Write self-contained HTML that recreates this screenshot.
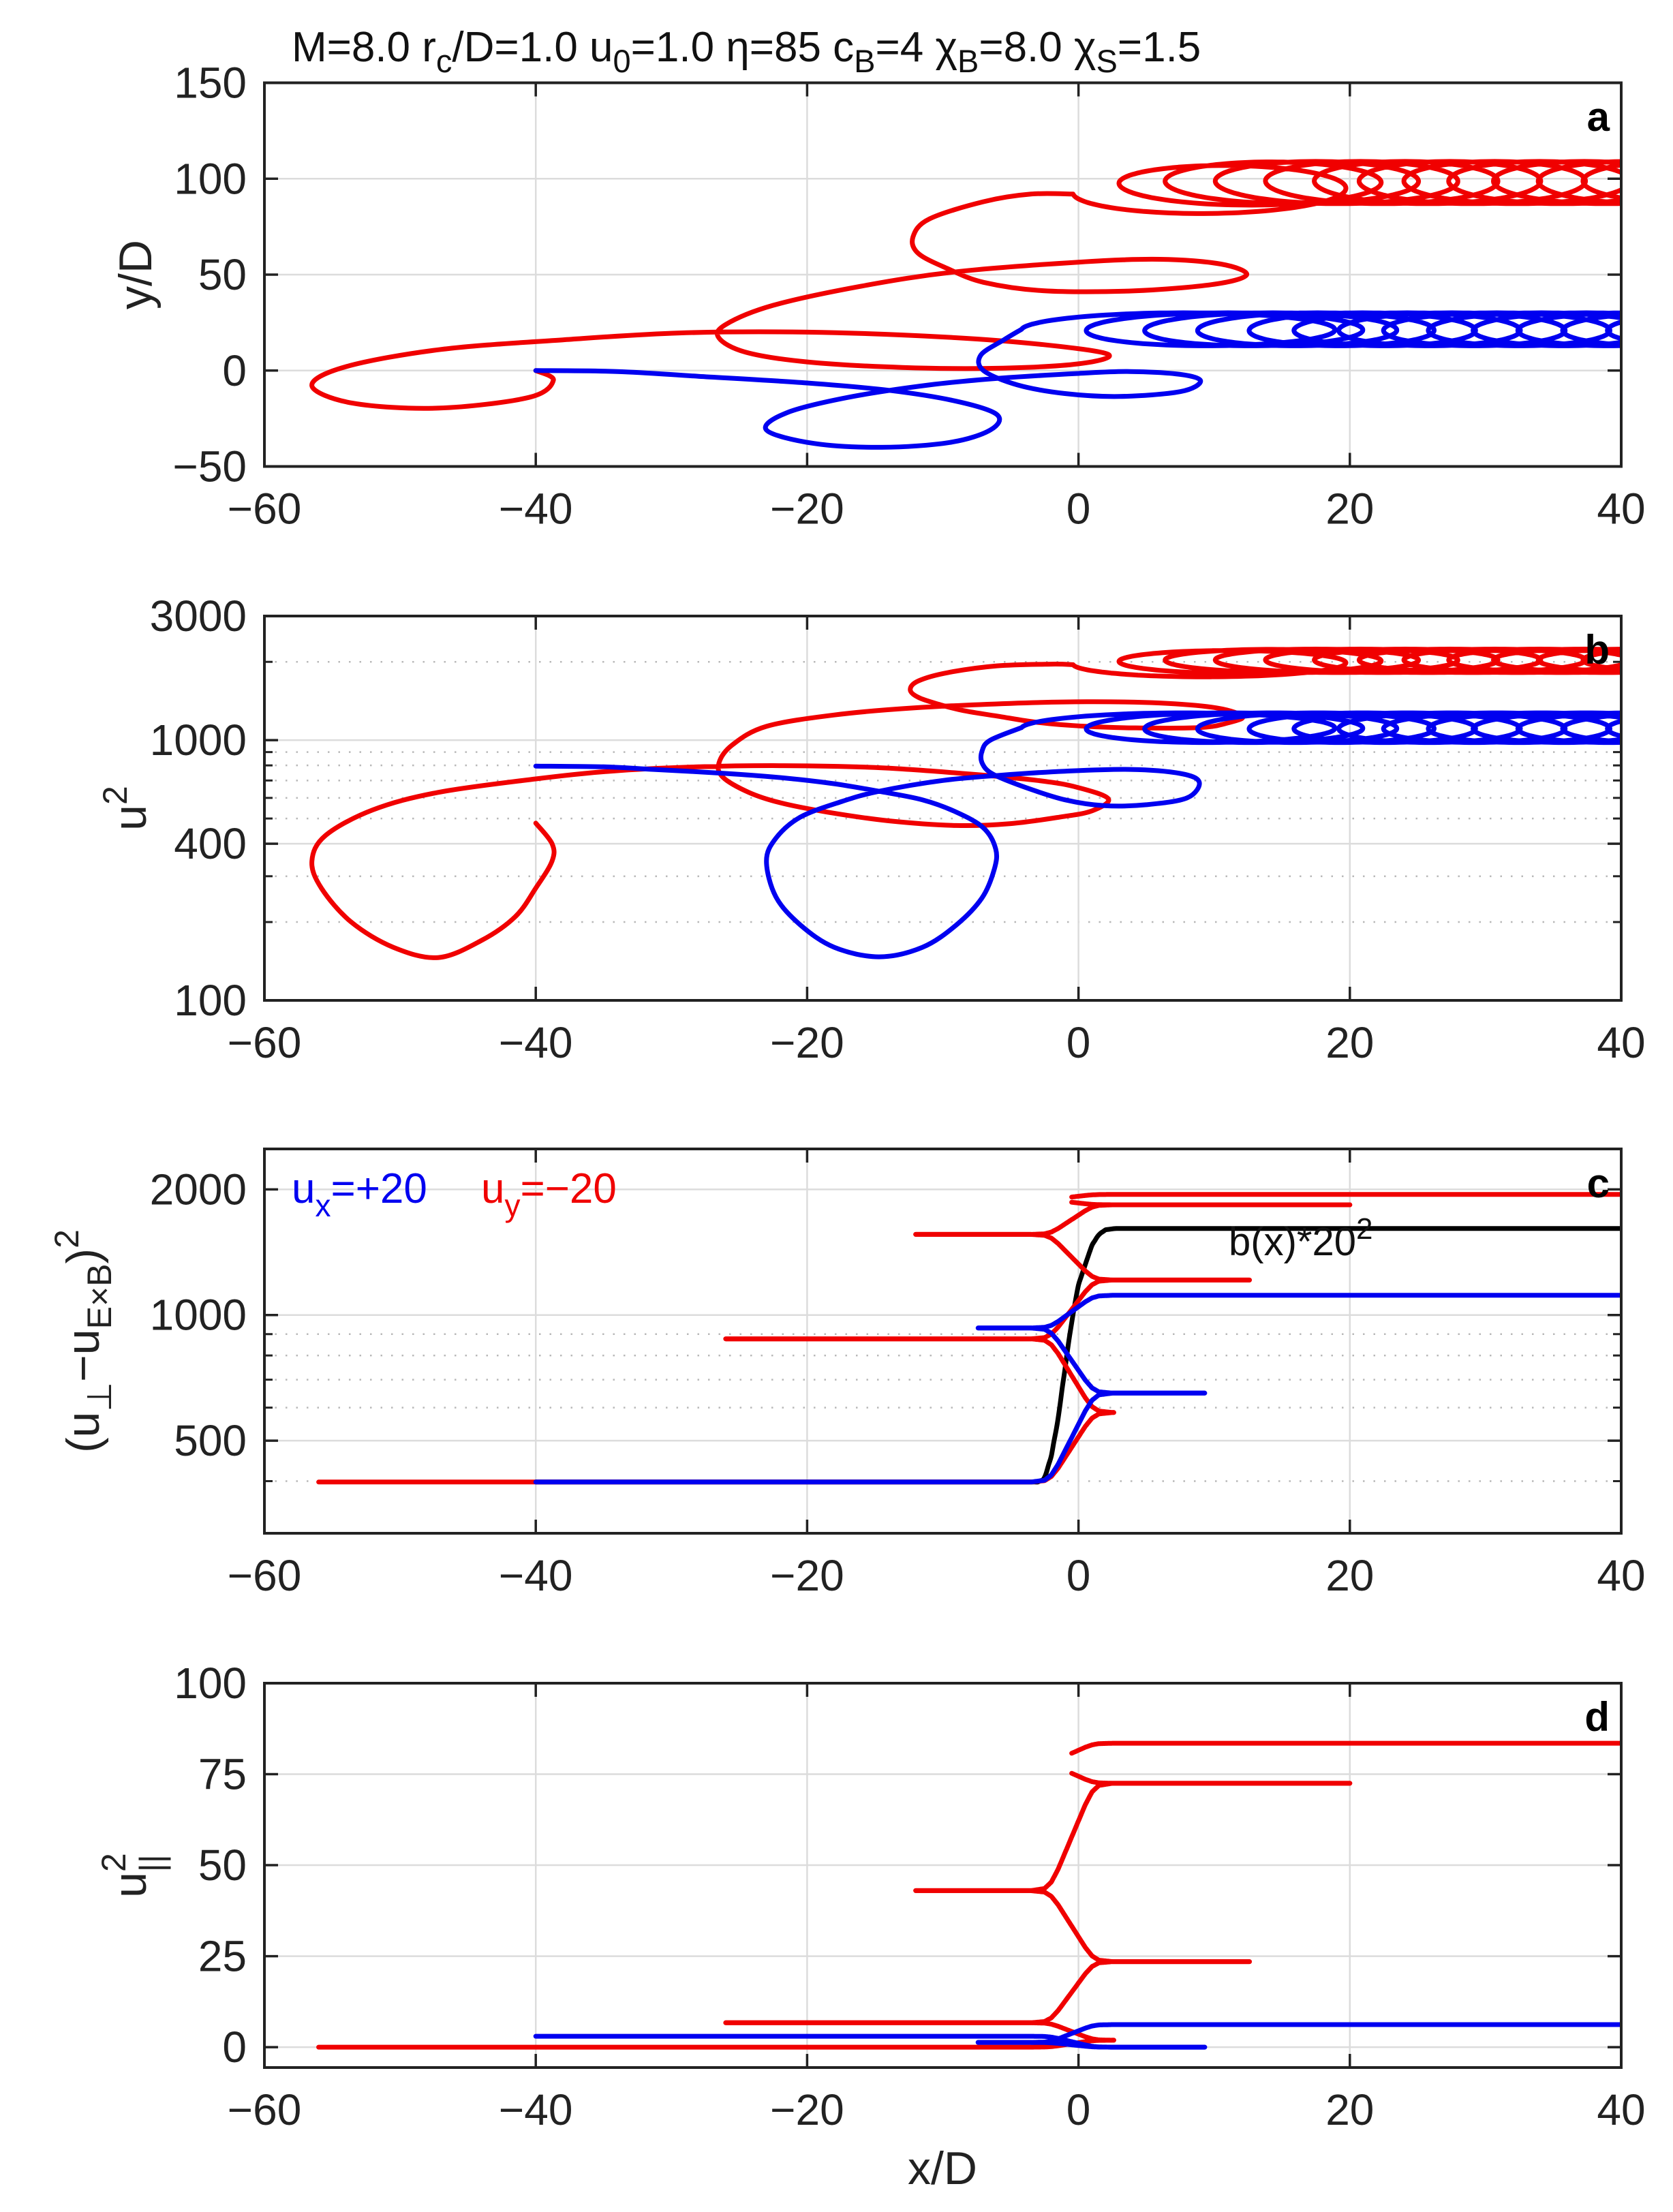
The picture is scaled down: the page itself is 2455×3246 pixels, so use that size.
<!DOCTYPE html>
<html><head><meta charset="utf-8"><title>Particle trajectories</title>
<style>
html,body{margin:0;padding:0;background:#fff;}
svg{display:block;font-family:"Liberation Sans",Arial,sans-serif;}
</style></head>
<body>
<svg id="fig" xmlns="http://www.w3.org/2000/svg" width="2455" height="3246" viewBox="0 0 2455 3246">
<rect width="2455" height="3246" fill="#fff"/>
<defs>
<clipPath id="clipA"><rect x="388" y="121.5" width="1991" height="563"/></clipPath>
<clipPath id="clipB"><rect x="388" y="904" width="1991" height="564"/></clipPath>
<clipPath id="clipC"><rect x="388" y="1686" width="1991" height="564"/></clipPath>
<clipPath id="clipD"><rect x="388" y="2470" width="1991" height="564"/></clipPath>
</defs>
<text x="428" y="90" font-size="62" fill="#111">M=8.0 r<tspan dy="16" font-size="47">c</tspan><tspan dy="-16">/D=1.0 u</tspan><tspan dy="16" font-size="47">0</tspan><tspan dy="-16">=1.0 η=85 c</tspan><tspan dy="16" font-size="47">B</tspan><tspan dy="-16">=4 χ</tspan><tspan dy="16" font-size="47">B</tspan><tspan dy="-16">=8.0 χ</tspan><tspan dy="16" font-size="47">S</tspan><tspan dy="-16">=1.5</tspan></text>
<g id="layer"></g>
</svg>
<script>
// ---------- data ----------
const xTicks = [-60, -40, -20, 0, 20, 40];
const aTicks = [-50, 0, 50, 100, 150];
const bTicks = [100, 400, 1000, 3000];
const bMinor = [200, 300, 500, 600, 700, 800, 900, 2000];
const cTicks = [500, 1000, 2000];
const cMinor = [400, 600, 700, 800, 900];
const dTicks = [0, 25, 50, 75, 100];

// panel a pre-train trajectories (x/D, y/D)
const redAX = [-40,-38.7,-40.5,-47.2,-53.5,-56.5,-54,-47,-38,-29.4,-20,-10,-2.6,2.2,0,-6,-13,-20,-24.5,-26.5,-26,-22.5,-16,-9,0,6,10.5,12.4,10,4,-2.6,-7,-9.6,-11.8,-12.2,-11,-7,-3.5,-0.4];
const redAY = [0,-5,-14,-19.6,-17,-8,2,11,16,19.6,20,17.5,13.5,8.4,3.5,1.2,1.6,4.5,9.5,17,24,34,44,51.5,56.5,58,55.5,50,45,41.5,41.6,46,53,61,69.6,79,88,92,92];
const blueAX = [-40,-34,-28,-20,-14,-9,-6,-6.5,-9.5,-14.5,-19.5,-23,-21.5,-17,-11,-5.8,0,3.8,7.5,9,7.5,3,-1,-4.5,-7,-7.2,-5.5,-4.2];
const blueAY = [0,-0.5,-3,-6.5,-10.3,-16,-23,-31,-37.5,-40,-38,-31,-22,-14,-7.5,-4,-1.5,-0.5,-2,-5.5,-11,-13.5,-12,-7.5,0,8,16,21.5];

// panel b pre-train trajectories (x/D, u^2)
const redBX = [-40,-38.8,-38.8,-40,-41.5,-44,-47.2,-50.5,-53.6,-55.8,-56.5,-55.5,-52,-47.2,-40,-34.5,-28,-21.7,-15,-9,-3,-0.05,2.2,1,-1.3,-5,-9,-14,-18.5,-22,-24.3,-26.2,-26.5,-25.5,-23,-18,-12.2,-5,0.6,6,10.2,12.1,11,8.9,4,0.6,-3,-5.8,-8.5,-10.3,-11.8,-12.4,-11.8,-9.6,-6,-2,-0.4];
const redBV = [480,400,343,270,210,170,146,160,200,270,343,430,540,630,710,760,790,798,785,748,700,658,595,535,507,478,470,490,529,575,630,720,817,960,1130,1250,1330,1385,1405,1390,1330,1233,1165,1117,1115,1130,1170,1233,1300,1374,1460,1563,1690,1820,1930,1960,1950];
const blueBX = [-40,-35,-31.3,-26,-21.7,-18,-14.7,-11.5,-9,-7,-6.1,-6.2,-7.1,-9,-11.5,-14.7,-18,-20.5,-22.3,-23,-22.3,-20.5,-17.5,-14.7,-10,-5.8,-1,3.8,7.5,8.9,8,5,1.9,-1,-3.9,-6.3,-7.1,-7.1,-6.5,-4.2];
const blueBV = [795,790,772,745,716,680,636,590,529,460,382,320,248,195,160,147,160,195,250,343,420,506,580,636,700,733,760,772,745,690,600,565,560,590,658,740,817,910,1000,1117];

// gyration trains: centre x of each turn and half-width of each turn
const redTrainCx = [9.0,12.0,15.0,18.3,21.6,24.9,28.2,31.5,34.8,38.1,41.4,44.7,48.0];
const redTrainA  = [9.4,9.0,8.6,8.2,7.8,7.5,7.5,7.5,7.5,7.5,7.5,7.5,7.5];
const blueTrainCx = [6.9,10.2,13.5,16.8,20.1,23.4,26.7,30,33.3,36.6,39.9,43.2,46.5];
const blueTrainA  = [11.1,9.6,8.6,8.0,7.5,7.5,7.5,7.5,7.5,7.5,7.5,7.5,7.5];
const redTrainCyA = [92,97,98,98,98,98,98,98,98,98,98,98,98];
const redTrainBA  = [11.5,11,11,11,11,11,11,11,11,11,11,11,11];
const blueTrainCyA = [21.5,21.5,21.5,21.5,21.5,21.5,21.5,21.5,21.5,21.5,21.5,21.5,21.5];
const blueTrainBA  = [8.6,8.6,8.6,8.6,8.6,8.6,8.6,8.6,8.6,8.6,8.6,8.6,8.6];
const redTrainCyB = [3.29,3.30,3.305,3.305,3.305,3.305,3.305,3.305,3.305,3.305,3.305,3.305,3.305];
const redTrainBB  = [0.05,0.046,0.045,0.045,0.045,0.045,0.045,0.045,0.045,0.045,0.045,0.045,0.045];
const blueTrainCyB = [3.048,3.048,3.048,3.048,3.048,3.048,3.048,3.048,3.048,3.048,3.048,3.048,3.048];
const blueTrainBB  = [0.057,0.057,0.057,0.057,0.057,0.057,0.057,0.057,0.057,0.057,0.057,0.057,0.057];

// panel c/d legs between turning points
const redSegX0 = [-56, 2.6, -26, 12.6, -12, 20, -0.5];
const redSegX1 = [2.6, -26, 12.6, -12, 20, -0.5, 40];
const redCLeft  = [398, 877, 877, 1560, 1560, 1890, 1890];
const redCRight = [584, 584, 1213, 1213, 1837, 1837, 1945];
const redDLeft  = [0, 6.7, 6.7, 43, 43, 78, 78];
const redDRight = [1.9, 1.9, 23.5, 23.5, 72.5, 72.5, 83.5];
const blueSegX0 = [-40, 9.3, -7.4];
const blueSegX1 = [9.3, -7.4, 40];
const blueCLeft  = [398, 931, 931];
const blueCRight = [650, 650, 1115];
const blueDLeft  = [3, 1.3, 1.3];
const blueDRight = [0, 0, 6.2];
const bProfX = [-40,-3,-2.5,-2,-1.5,-1,-0.5,0,0.5,1,1.5,2,2.7,40];
const bProfV = [398,398,405,460,560,740,960,1180,1320,1470,1560,1600,1612,1612];
const transX = [-3.5,-2.5,-2,-1.5,-1,-0.5,0,0.5,1,1.5,2.5];
const transS = [0,0.02,0.08,0.2,0.35,0.5,0.65,0.8,0.92,0.98,1];

// ---------- axes ----------
const L = 388, R = 2379;
const X = x => L + (x + 60) * (R - L) / 100;
const P = {
  a: {top:121.5, bot:684.5, y: v => 121.5 + (150 - v) / 200 * 563},
  b: {top:904, bot:1468, y: v => 904 + (Math.log10(3000) - Math.log10(v)) / Math.log10(30) * 564},
  bl:{y: l => 904 + (Math.log10(3000) - l) / Math.log10(30) * 564},
  c: {top:1686, bot:2250, y: v => 1686 + (Math.log10(2500) - Math.log10(v)) / Math.log10(2500/300) * 564},
  d: {top:2470, bot:3034, y: v => 2470 + (100 - v) / 105.6 * 564}
};
const NS = 'http://www.w3.org/2000/svg';
const layer = document.getElementById('layer');
function mk(tag, attrs, parent) {
  const e = document.createElementNS(NS, tag);
  for (const k in attrs) e.setAttribute(k, attrs[k]);
  (parent || layer).appendChild(e);
  return e;
}
function interp(xs, vs, x) {
  if (x <= xs[0]) return vs[0];
  for (let i = 1; i < xs.length; i++) if (x <= xs[i]) {
    const t = (x - xs[i-1]) / (xs[i] - xs[i-1]); return vs[i-1] + t * (vs[i] - vs[i-1]);
  }
  return vs[vs.length - 1];
}
function catmull(pts) {
  let d = 'M' + pts[0][0].toFixed(1) + ',' + pts[0][1].toFixed(1);
  for (let i = 0; i < pts.length - 1; i++) {
    const p0 = pts[Math.max(0, i-1)], p1 = pts[i], p2 = pts[i+1], p3 = pts[Math.min(pts.length-1, i+2)];
    const c1 = [p1[0] + (p2[0]-p0[0])/6, p1[1] + (p2[1]-p0[1])/6];
    const c2 = [p2[0] - (p3[0]-p1[0])/6, p2[1] - (p3[1]-p1[1])/6];
    d += 'C' + c1[0].toFixed(1) + ',' + c1[1].toFixed(1) + ' ' + c2[0].toFixed(1) + ',' + c2[1].toFixed(1) + ' ' + p2[0].toFixed(1) + ',' + p2[1].toFixed(1);
  }
  return d;
}
function poly(pts) { return 'M' + pts.map(p => p[0].toFixed(1) + ',' + p[1].toFixed(1)).join('L'); }
function trainPts(cx, a, cy, bb, dir, ymap) {
  const pts = [];
  const n = cx.length;
  for (let k = 0; k < n; k++) {
    const cx1 = k < n-1 ? cx[k+1] : cx[k] + (cx[k] - cx[k-1]);
    const a1 = k < n-1 ? a[k+1] : a[k];
    const cy1 = k < n-1 ? cy[k+1] : cy[k];
    const b1 = k < n-1 ? bb[k+1] : bb[k];
    for (let j = 0; j < 120; j++) {
      const t = j / 120, th = t * 2 * Math.PI;
      const c = cx[k] + (cx1 - cx[k]) * t, aa = a[k] + (a1 - a[k]) * t;
      const yc = cy[k] + (cy1 - cy[k]) * t, bv = bb[k] + (b1 - bb[k]) * t;
      pts.push([X(c - aa * Math.cos(th)), ymap(yc + dir * bv * Math.sin(th))]);
    }
  }
  return pts;
}

function frame(key, name, yticks, ymap, minor) {
  const p = P[key];
  const g = mk('g', {});
  
  
  (minor || []).forEach(v => {
    const y = ymap(v);
    const ln = mk('line', {x1:L, x2:R, y1:y, y2:y, stroke:'#b8b8b8', 'stroke-width':2.5, 'stroke-dasharray':'2.5 13'}, g);
    
    
    [[L, 12], [R, -12]].forEach(([x0, dx]) => mk('line', {x1:x0, x2:x0+dx, y1:y, y2:y, stroke:'#222', 'stroke-width':3}, g));
  });
  yticks.forEach(v => {
    const y = ymap(v);
    if (y > p.top + 2 && y < p.bot - 2) {
      const ln = mk('line', {x1:L, x2:R, y1:y, y2:y, stroke:'#dcdcdc', 'stroke-width':2.5}, g);
      
      
    }
    [[L, 20], [R, -20]].forEach(([x0, dx]) => mk('line', {x1:x0, x2:x0+dx, y1:y, y2:y, stroke:'#222', 'stroke-width':3.5}, g));
    const t = mk('text', {x:362, y:y + 22, 'text-anchor':'end', 'font-size':64, fill:'#222'}, g);
    
    
    t.textContent = String(v).replace('-', '\u2212');
  });
  xTicks.forEach(v => {
    const x = X(v);
    if (v > -60 && v < 40) {
      const ln = mk('line', {x1:x, x2:x, y1:p.top, y2:p.bot, stroke:'#dcdcdc', 'stroke-width':2.5}, g);
      
      
    }
    [[p.top, 20], [p.bot, -20]].forEach(([y0, dy]) => mk('line', {x1:x, x2:x, y1:y0, y2:y0+dy, stroke:'#222', 'stroke-width':3.5}, g));
    const t = mk('text', {x:x, y:p.bot + 84, 'text-anchor':'middle', 'font-size':64, fill:'#222'}, g);
    
    
    t.textContent = String(v).replace('-', '\u2212');
  });
  return g;
}
function box(key) {
  const p = P[key];
  const r = mk('rect', {x:L, y:p.top, width:R-L, height:p.bot-p.top, fill:'none', stroke:'#222', 'stroke-width':4});
  
  
}
function curve(d, color, clip, name, w) {
  const e = mk('path', {d:d, fill:'none', stroke:color, 'stroke-width':w || 7, 'stroke-linejoin':'round', 'stroke-linecap':'round', 'clip-path':'url(#' + clip + ')'});
  
  
  return e;
}
const RED = '#f00000', BLUE = '#0000f0';

frame('a', 'a', aTicks, P.a.y);
curve(catmull(redAX.map((x, i) => [X(x), P.a.y(redAY[i])])) + poly(trainPts(redTrainCx, redTrainA, redTrainCyA, redTrainBA, -1, P.a.y)).replace('M', 'L'), RED, 'clipA', 'red-trajectory-a');
curve(catmull(blueAX.map((x, i) => [X(x), P.a.y(blueAY[i])])) + poly(trainPts(blueTrainCx, blueTrainA, blueTrainCyA, blueTrainBA, 1, P.a.y)).replace('M', 'L'), BLUE, 'clipA', 'blue-trajectory-a');
box('a');

frame('b', 'b', bTicks, P.b.y, bMinor);
curve(catmull(redBX.map((x, i) => [X(x), P.b.y(redBV[i])])) + poly(trainPts(redTrainCx, redTrainA, redTrainCyB, redTrainBB, -1, P.bl.y)).replace('M', 'L'), RED, 'clipB', 'red-trajectory-b');
curve(catmull(blueBX.map((x, i) => [X(x), P.b.y(blueBV[i])])) + poly(trainPts(blueTrainCx, blueTrainA, blueTrainCyB, blueTrainBB, 1, P.bl.y)).replace('M', 'L'), BLUE, 'clipB', 'blue-trajectory-b');
box('b');

function segPts(x0, x1, vl, vr, ymap, logv) {
  const pts = [], n = 700;
  for (let i = 0; i <= n; i++) {
    const x = x0 + (x1 - x0) * i / n;
    const s = interp(transX, transS, x);
    const v = logv ? Math.pow(10, Math.log10(vl) + s * (Math.log10(vr) - Math.log10(vl))) : vl + s * (vr - vl);
    pts.push([X(x), ymap(v)]);
  }
  return pts;
}
frame('c', 'c', cTicks, P.c.y, cMinor);
{
  const bp = [];
  for (let i = 0; i <= 800; i++) { const x = -40 + 80 * i / 800; bp.push([X(x), P.c.y(interp(bProfX, bProfV, x))]); }
  curve(catmull(bp.filter((p, i) => i % 2 === 0)), '#000', 'clipC', 'bx-profile-line', 7);
}
redSegX0.forEach((x0, i) => curve(poly(segPts(x0, redSegX1[i], redCLeft[i], redCRight[i], P.c.y, true)), RED, 'clipC', 'red-leg-c'));
blueSegX0.forEach((x0, i) => curve(poly(segPts(x0, blueSegX1[i], blueCLeft[i], blueCRight[i], P.c.y, true)), BLUE, 'clipC', 'blue-leg-c'));
box('c');

frame('d', 'd', dTicks, P.d.y);
redSegX0.forEach((x0, i) => curve(poly(segPts(x0, redSegX1[i], redDLeft[i], redDRight[i], P.d.y, false)), RED, 'clipD', 'red-leg-d'));
blueSegX0.forEach((x0, i) => curve(poly(segPts(x0, blueSegX1[i], blueDLeft[i], blueDRight[i], P.d.y, false)), BLUE, 'clipD', 'blue-leg-d'));
box('d');
</script>
<svg xmlns="http://www.w3.org/2000/svg" width="2455" height="3246" style="position:absolute;left:0;top:0;pointer-events:none;font-family:'Liberation Sans',Arial,sans-serif;">
<text x="2362" y="192" font-size="60" font-weight="bold" text-anchor="end">a</text>
<text x="2362" y="974" font-size="60" font-weight="bold" text-anchor="end">b</text>
<text x="2362" y="1757" font-size="60" font-weight="bold" text-anchor="end">c</text>
<text x="2362" y="2540" font-size="60" font-weight="bold" text-anchor="end">d</text>
<text transform="translate(222,403) rotate(-90)" text-anchor="middle" font-size="68" fill="#222">y/D</text>
<text transform="translate(214,1186) rotate(-90)" text-anchor="middle" font-size="68" fill="#222">u<tspan dy="-28" font-size="50">2</tspan></text>
<text transform="translate(145,1968) rotate(-90)" text-anchor="middle" font-size="68" fill="#222">(u<tspan dy="18" font-size="50">⊥</tspan><tspan dy="-18">−u</tspan><tspan dy="18" font-size="50">E×B</tspan><tspan dy="-18">)</tspan><tspan dy="-30" font-size="50">2</tspan></text>
<text transform="translate(214,2752) rotate(-90)" text-anchor="middle" font-size="68" fill="#222">u<tspan dy="-30" font-size="50">2</tspan><tspan dx="-28" dy="56" font-size="50">||</tspan></text>
<text x="1383" y="3205" text-anchor="middle" font-size="68" fill="#222">x/D</text>
<text x="428" y="1765" font-size="62" fill="#0000f0">u<tspan dy="20" font-size="46">x</tspan><tspan dy="-20">=+20</tspan></text>
<text x="706" y="1765" font-size="62" fill="#f00000">u<tspan dy="20" font-size="46">y</tspan><tspan dy="-20">=−20</tspan></text>
<text x="1803" y="1842" font-size="58" fill="#111">b(x)*20<tspan dy="-24" font-size="44">2</tspan></text>
</svg>
</body></html>
